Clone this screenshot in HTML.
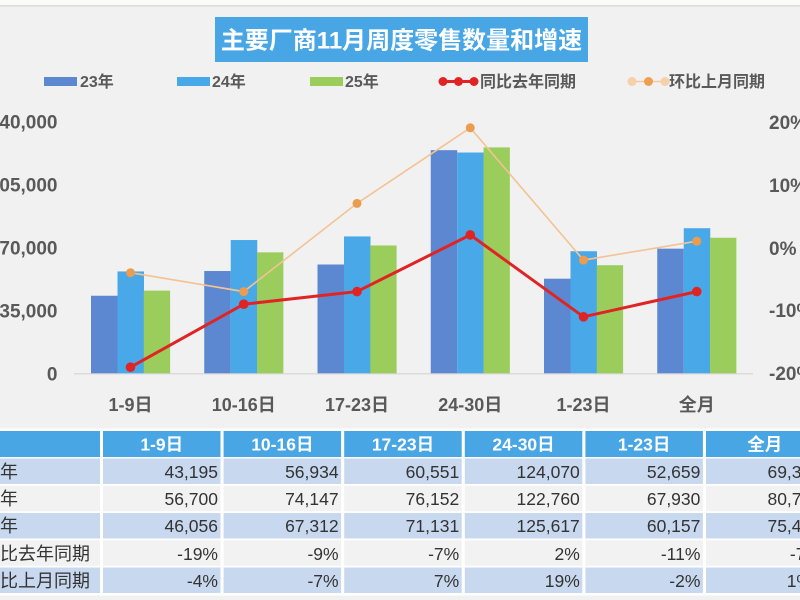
<!DOCTYPE html>
<html>
<head>
<meta charset="utf-8">
<style>
  html, body { margin:0; padding:0; width:800px; height:600px; overflow:hidden; background:#f1f1f1; }
  svg { display:block; }
  text { font-family: "Liberation Sans", "Noto Sans CJK SC", sans-serif; }
</style>
</head>
<body>
<svg width="800" height="600" viewBox="0 0 800 600" xmlns="http://www.w3.org/2000/svg">
  <!-- background -->
  <rect x="0" y="0" width="800" height="600" fill="#f1f1f1"/>
  <rect x="0" y="0" width="800" height="5" fill="#fbfbf8"/>
  <rect x="0" y="5" width="800" height="1.5" fill="#dcdcdc"/>

  <!-- title -->
  <rect x="215" y="17" width="373" height="45" fill="#48a6e5"/>
  <text x="401.5" y="48.5" font-size="24" font-weight="bold" fill="#ffffff" text-anchor="middle">主要厂商11月周度零售数量和增速</text>

  <!-- legend -->
  <g font-size="16" font-weight="bold" fill="#595959">
    <rect x="44" y="77" width="33" height="9" fill="#5b88d0"/>
    <text x="80" y="87">23年</text>
    <rect x="177" y="77" width="33" height="9" fill="#49a8e8"/>
    <text x="212" y="87">24年</text>
    <rect x="310" y="77" width="33" height="9" fill="#9acd5c"/>
    <text x="345" y="87">25年</text>
    <line x1="439" y1="81.5" x2="478" y2="81.5" stroke="#e02424" stroke-width="3"/>
    <circle cx="443" cy="81.5" r="4.5" fill="#e02424"/>
    <circle cx="458.5" cy="81.5" r="4.5" fill="#e02424"/>
    <circle cx="474" cy="81.5" r="4.5" fill="#e02424"/>
    <text x="480" y="87">同比去年同期</text>
    <line x1="630" y1="81.5" x2="667" y2="81.5" stroke="#f5c99c" stroke-width="1.5"/>
    <circle cx="632" cy="81.5" r="4.5" fill="#f5d0a8"/>
    <circle cx="648.5" cy="81.5" r="4.5" fill="#eda052"/>
    <circle cx="665" cy="81.5" r="4.5" fill="#f5d0a8"/>
    <text x="669" y="87">环比上月同期</text>
  </g>

  <!-- left axis labels -->
  <g font-size="19" font-weight="bold" fill="#595959" text-anchor="end">
    <text x="57.5" y="128.5">140,000</text>
    <text x="57.5" y="191.5">105,000</text>
    <text x="57.5" y="254.5">70,000</text>
    <text x="57.5" y="317.5">35,000</text>
    <text x="57.5" y="380.5">0</text>
  </g>
  <!-- right axis labels -->
  <g font-size="19" font-weight="bold" fill="#595959">
    <text x="769" y="129">20%</text>
    <text x="769" y="192">10%</text>
    <text x="769" y="255">0%</text>
    <text x="769" y="317">-10%</text>
    <text x="769" y="380">-20%</text>
  </g>

  <!-- bars -->
  <g>
    <g fill="#5b88d0">
      <rect x="91" y="295.75" width="26.5" height="77.75"/>
      <rect x="204.25" y="271.02" width="26.5" height="102.48"/>
      <rect x="317.5" y="264.51" width="26.5" height="108.99"/>
      <rect x="430.75" y="150.17" width="26.5" height="223.33"/>
      <rect x="544" y="278.71" width="26.5" height="94.79"/>
      <rect x="657.25" y="248.67" width="26.5" height="124.83"/>
    </g>
    <g fill="#49a8e8">
      <rect x="117.5" y="271.44" width="26.5" height="102.06"/>
      <rect x="230.75" y="240.04" width="26.5" height="133.46"/>
      <rect x="344" y="236.43" width="26.5" height="137.07"/>
      <rect x="457.25" y="152.53" width="26.5" height="220.97"/>
      <rect x="570.5" y="251.23" width="26.5" height="122.27"/>
      <rect x="683.75" y="228.19" width="26.5" height="145.31"/>
    </g>
    <g fill="#9acd5c">
      <rect x="143.8" y="290.6" width="26.3" height="82.9"/>
      <rect x="257.05" y="252.34" width="26.3" height="121.16"/>
      <rect x="370.3" y="245.46" width="26.3" height="128.04"/>
      <rect x="483.55" y="147.39" width="26.3" height="226.11"/>
      <rect x="596.8" y="265.22" width="26.3" height="108.28"/>
      <rect x="710.05" y="237.74" width="26.3" height="135.76"/>
    </g>
  </g>
  <!-- baseline -->
  <line x1="74" y1="373.8" x2="753" y2="373.8" stroke="#d4d4d4" stroke-width="1.2"/>

  <!-- orange line -->
  <polyline points="130.5,272.7 243.75,291.6 357,203.4 470.25,127.8 583.5,260.1 696.75,241.2" fill="none" stroke="#f3c393" stroke-width="1.6"/>
  <g fill="#ec9c4e">
    <circle cx="130.5" cy="272.7" r="4.5"/>
    <circle cx="243.75" cy="291.6" r="4.5"/>
    <circle cx="357" cy="203.4" r="4.5"/>
    <circle cx="470.25" cy="127.8" r="4.5"/>
    <circle cx="583.5" cy="260.1" r="4.5"/>
    <circle cx="696.75" cy="241.2" r="4.5"/>
  </g>

  <!-- red line -->
  <polyline points="130.5,367.2 243.75,304.2 357,291.6 470.25,234.9 583.5,316.8 696.75,291.6" fill="none" stroke="#e02424" stroke-width="3"/>
  <g fill="#e02424">
    <circle cx="130.5" cy="367.2" r="4.8"/>
    <circle cx="243.75" cy="304.2" r="4.8"/>
    <circle cx="357" cy="291.6" r="4.8"/>
    <circle cx="470.25" cy="234.9" r="4.8"/>
    <circle cx="583.5" cy="316.8" r="4.8"/>
    <circle cx="696.75" cy="291.6" r="4.8"/>
  </g>

  <!-- category labels -->
  <g font-size="18" font-weight="bold" fill="#595959" text-anchor="middle">
    <text x="130.5" y="411">1-9日</text>
    <text x="243.75" y="411">10-16日</text>
    <text x="357" y="411">17-23日</text>
    <text x="470.25" y="411">24-30日</text>
    <text x="583.5" y="411">1-23日</text>
    <text x="696.75" y="411">全月</text>
  </g>

  <!-- table -->
  <rect x="0" y="428.5" width="800" height="167" fill="#ffffff"/>
  <g fill="#48a6e5">
    <rect x="0" y="431" width="100" height="26"/>
    <rect x="103" y="431" width="117.5" height="26"/>
    <rect x="223.6" y="431" width="117.5" height="26"/>
    <rect x="344.2" y="431" width="117.5" height="26"/>
    <rect x="464.8" y="431" width="117.5" height="26"/>
    <rect x="585.4" y="431" width="117.5" height="26"/>
    <rect x="706" y="431" width="117.5" height="26"/>
  </g>
  <g font-size="17.5" font-weight="bold" fill="#ffffff" text-anchor="middle">
    <text x="161.75" y="450.5">1-9日</text>
    <text x="282.35" y="450.5">10-16日</text>
    <text x="402.95" y="450.5">17-23日</text>
    <text x="523.55" y="450.5">24-30日</text>
    <text x="644.15" y="450.5">1-23日</text>
    <text x="764.75" y="450.5">全月</text>
  </g>

  <g>
    <g fill="#c8d8ef">
      <rect x="0" y="458.5" width="100" height="25.5"/><rect x="103" y="458.5" width="117.5" height="25.5"/><rect x="223.6" y="458.5" width="117.5" height="25.5"/><rect x="344.2" y="458.5" width="117.5" height="25.5"/><rect x="464.8" y="458.5" width="117.5" height="25.5"/><rect x="585.4" y="458.5" width="117.5" height="25.5"/><rect x="706" y="458.5" width="117.5" height="25.5"/>
      <rect x="0" y="513" width="100" height="25.5"/><rect x="103" y="513" width="117.5" height="25.5"/><rect x="223.6" y="513" width="117.5" height="25.5"/><rect x="344.2" y="513" width="117.5" height="25.5"/><rect x="464.8" y="513" width="117.5" height="25.5"/><rect x="585.4" y="513" width="117.5" height="25.5"/><rect x="706" y="513" width="117.5" height="25.5"/>
      <rect x="0" y="567.5" width="100" height="25.5"/><rect x="103" y="567.5" width="117.5" height="25.5"/><rect x="223.6" y="567.5" width="117.5" height="25.5"/><rect x="344.2" y="567.5" width="117.5" height="25.5"/><rect x="464.8" y="567.5" width="117.5" height="25.5"/><rect x="585.4" y="567.5" width="117.5" height="25.5"/><rect x="706" y="567.5" width="117.5" height="25.5"/>
    </g>
    <g fill="#f2f2f2">
      <rect x="0" y="485.75" width="100" height="25.5"/><rect x="103" y="485.75" width="117.5" height="25.5"/><rect x="223.6" y="485.75" width="117.5" height="25.5"/><rect x="344.2" y="485.75" width="117.5" height="25.5"/><rect x="464.8" y="485.75" width="117.5" height="25.5"/><rect x="585.4" y="485.75" width="117.5" height="25.5"/><rect x="706" y="485.75" width="117.5" height="25.5"/>
      <rect x="0" y="540.25" width="100" height="25.5"/><rect x="103" y="540.25" width="117.5" height="25.5"/><rect x="223.6" y="540.25" width="117.5" height="25.5"/><rect x="344.2" y="540.25" width="117.5" height="25.5"/><rect x="464.8" y="540.25" width="117.5" height="25.5"/><rect x="585.4" y="540.25" width="117.5" height="25.5"/><rect x="706" y="540.25" width="117.5" height="25.5"/>
    </g>
  </g>

  <!-- row labels -->
  <g font-size="18" fill="#333333">
    <text x="-20" y="478">23年</text>
    <text x="-20" y="505">24年</text>
    <text x="-20" y="532">25年</text>
    <text x="-18" y="560">同比去年同期</text>
    <text x="-18" y="587">环比上月同期</text>
  </g>

  <!-- data -->
  <g font-size="17.5" fill="#333333" text-anchor="end">
    <text x="218" y="478">43,195</text>
    <text x="338.6" y="478">56,934</text>
    <text x="459.2" y="478">60,551</text>
    <text x="579.8" y="478">124,070</text>
    <text x="700.4" y="478">52,659</text>
    <text x="821" y="478">69,350</text>

    <text x="218" y="505">56,700</text>
    <text x="338.6" y="505">74,147</text>
    <text x="459.2" y="505">76,152</text>
    <text x="579.8" y="505">122,760</text>
    <text x="700.4" y="505">67,930</text>
    <text x="821" y="505">80,730</text>

    <text x="218" y="532">46,056</text>
    <text x="338.6" y="532">67,312</text>
    <text x="459.2" y="532">71,131</text>
    <text x="579.8" y="532">125,617</text>
    <text x="700.4" y="532">60,157</text>
    <text x="821" y="532">75,420</text>

    <text x="218" y="560">-19%</text>
    <text x="338.6" y="560">-9%</text>
    <text x="459.2" y="560">-7%</text>
    <text x="579.8" y="560">2%</text>
    <text x="700.4" y="560">-11%</text>
    <text x="821" y="560">-7%</text>

    <text x="218" y="587">-4%</text>
    <text x="338.6" y="587">-7%</text>
    <text x="459.2" y="587">7%</text>
    <text x="579.8" y="587">19%</text>
    <text x="700.4" y="587">-2%</text>
    <text x="812" y="587">1%</text>
  </g>
</svg>
</body>
</html>
